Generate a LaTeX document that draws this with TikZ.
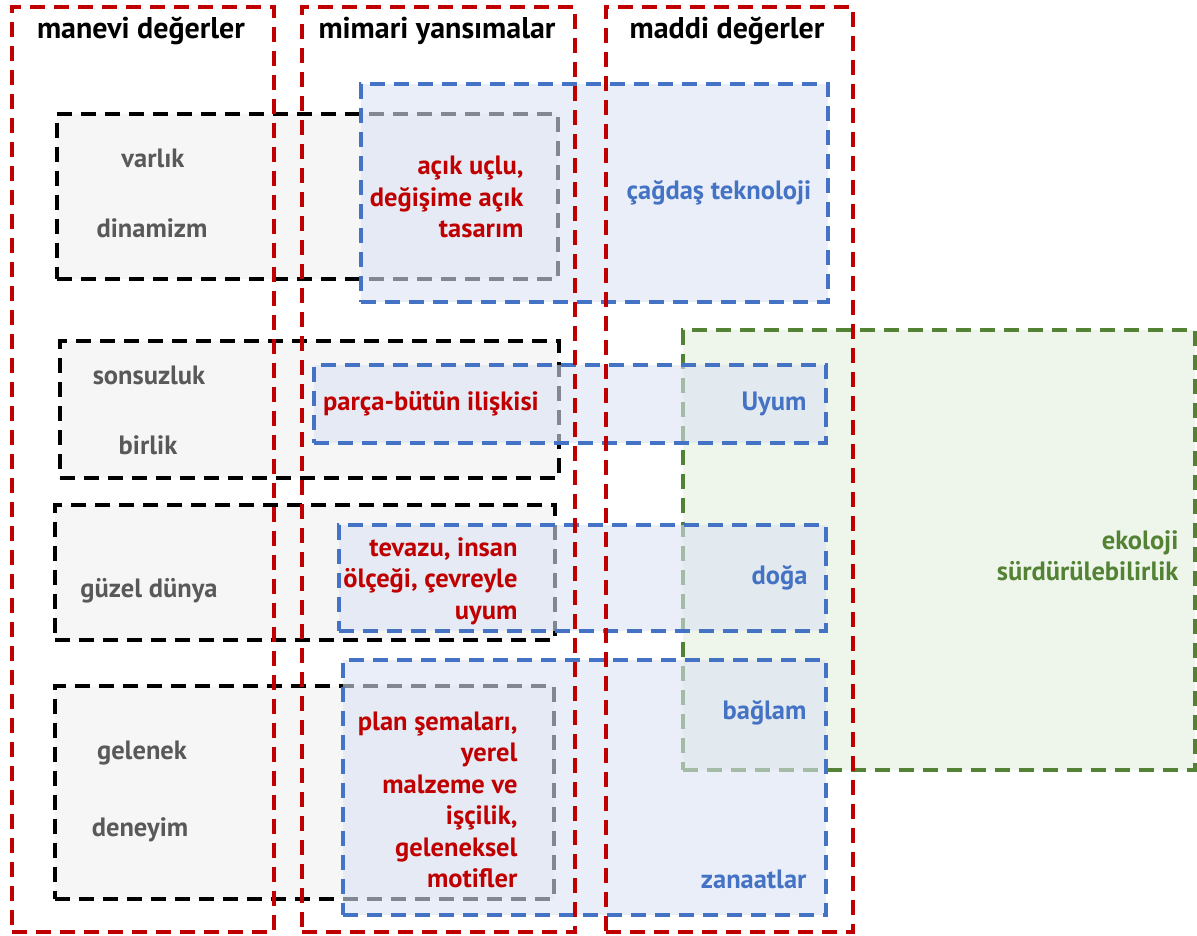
\documentclass[tikz,border=0pt]{standalone}
\usepackage{fontspec}
\setmainfont{PT Sans}
\definecolor{myred}{HTML}{C00000}
\definecolor{myblue}{HTML}{4472C4}
\definecolor{mygreen}{HTML}{548235}
\definecolor{mygray}{HTML}{595959}
\definecolor{bluefill}{HTML}{DAE3F3}
\definecolor{greenfill}{HTML}{EEF5EA}
\definecolor{grayfill}{HTML}{F6F6F6}
\begin{document}
\begin{tikzpicture}[x=1pt,y=-1pt,
  dsh/.style={line width=3.6pt,dash pattern=on 15pt off 9pt},
  box/.style={dsh,rectangle,inner sep=0pt,anchor=north west},
  blackbox/.style={box,draw=black,fill=grayfill},
  bluebox/.style={box,draw=myblue,fill=bluefill,fill opacity=0.6},
  greenbox/.style={box,draw=mygreen,fill=greenfill},
  redbox/.style={box,draw=myred},
  hdr/.style={font=\bfseries\fontsize{30}{34}\selectfont,text=black},
  gtxt/.style={font=\bfseries\fontsize{26.5}{31.5}\selectfont,text=mygray},
  rtxt/.style={font=\bfseries\fontsize{26.5}{31.5}\selectfont,text=myred,align=right},
  btxt/.style={font=\bfseries\fontsize{26.5}{31.5}\selectfont,text=myblue,align=right},
  vtxt/.style={font=\bfseries\fontsize{26.5}{31.5}\selectfont,text=mygreen,align=right}]
\useasboundingbox (0,0) rectangle (1197,935);
% black boxes
\node[blackbox,minimum width=501pt,minimum height=165pt] (k1) at (55,112) {};
\node[blackbox,minimum width=499pt,minimum height=137pt] (k2) at (58,339) {};
\node[blackbox,minimum width=500pt,minimum height=135pt] (k3) at (53,503) {};
\node[blackbox,minimum width=499pt,minimum height=213pt] (k4) at (53,684) {};
% green box
\node[greenbox,minimum width=512pt,minimum height=440pt] (g1) at (681,328) {};
% blue boxes
\node[bluebox,minimum width=467pt,minimum height=218pt] (u1) at (359,82) {};
\node[bluebox,minimum width=512pt,minimum height=78pt] (u2) at (312,363) {};
\node[bluebox,minimum width=487pt,minimum height=106pt] (u3) at (337,523) {};
\node[bluebox,minimum width=483pt,minimum height=255pt] (u4) at (341,658) {};
% red columns
\node[redbox,minimum width=262pt,minimum height=925pt] (c1) at (10,5) {};
\node[redbox,minimum width=273pt,minimum height=925pt] (c2) at (300,5) {};
\node[redbox,minimum width=247pt,minimum height=925pt] (c3) at (604,5) {};
% headers
\node[hdr] (h1) at (141,31) {manevi değerler};
\node[hdr] (h2) at (437,31) {mimari yansımalar};
\node[hdr] (h3) at (727,31) {maddi değerler};
% gray texts
\node[gtxt] (t1) at (153,158) {varlık};
\node[gtxt] (t2) at (152,228) {dinamizm};
\node[gtxt] (t3) at (149,375) {sonsuzluk};
\node[gtxt] (t4) at (148,445) {birlik};
\node[gtxt] (t5) at (149,591) {güzel dünya};
\node[gtxt] (t6) at (142,753) {gelenek};
\node[gtxt] (t7) at (140,830) {deneyim};
% red texts
\node[rtxt,anchor=east] (r1) at (527,197) {açık uçlu,\\değişime açık\\tasarım};
\node[rtxt] (r2) at (431,404) {parça-bütün ilişkisi};
\node[rtxt,anchor=east] (r3) at (521,581) {tevazu, insan\\ölçeği, çevreyle\\uyum};
\node[rtxt,anchor=east] (r4) at (521,800) {plan şemaları,\\yerel\\malzeme ve\\işçilik,\\geleneksel\\motifler};
% blue texts
\node[btxt] (b1) at (719,193) {çağdaş teknoloji};
\node[btxt,anchor=east] (b2) at (810,404) {Uyum};
\node[btxt,anchor=east] (b3) at (811,578) {doğa};
\node[btxt,anchor=east] (b4) at (810,713) {bağlam};
\node[btxt,anchor=east] (b5) at (810,879) {zanaatlar};
% green text
\node[vtxt,anchor=east] (e1) at (1182,556) {ekoloji\\sürdürülebilirlik};
\end{tikzpicture}
\end{document}
